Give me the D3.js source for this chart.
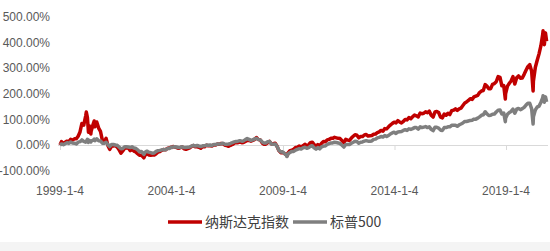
<!DOCTYPE html>
<html>
<head>
<meta charset="utf-8">
<script src="https://cdn.jsdelivr.net/npm/d3@7"></script>
<style>
  body { margin: 0; background: #fff; }
  text { font-family: "Liberation Sans", Arial, sans-serif; }
</style>
</head>
<body>
<div id="chart"></div>
<script>
// dates of the points (month ends plus a few turning points)
var dates = [
  "1999-01-04","1999-01-28","1999-02-28","1999-03-28","1999-04-28","1999-05-28","1999-06-28","1999-07-28","1999-08-28","1999-09-28","1999-10-28","1999-11-28","1999-12-28",
  "2000-01-28","2000-02-28","2000-03-10","2000-03-28","2000-04-14","2000-04-28","2000-05-23","2000-05-28","2000-06-28","2000-07-17","2000-07-28","2000-08-28","2000-09-28","2000-10-28","2000-11-28","2000-12-28",
  "2001-01-28","2001-02-28","2001-03-28","2001-04-28","2001-05-28","2001-06-28","2001-07-28","2001-08-28","2001-09-28","2001-10-28","2001-11-28","2001-12-28",
  "2002-01-28","2002-02-28","2002-03-28","2002-04-28","2002-05-28","2002-06-28","2002-07-28","2002-08-28","2002-09-28","2002-10-09","2002-10-28","2002-11-28","2002-12-28",
  "2003-01-28","2003-02-28","2003-03-28","2003-04-28","2003-05-28","2003-06-28","2003-07-28","2003-08-28","2003-09-28","2003-10-28","2003-11-28","2003-12-28",
  "2004-01-28","2004-02-28","2004-03-28","2004-04-28","2004-05-28","2004-06-28","2004-07-28","2004-08-28","2004-09-28","2004-10-28","2004-11-28","2004-12-28",
  "2005-01-28","2005-02-28","2005-03-28","2005-04-28","2005-05-28","2005-06-28","2005-07-28","2005-08-28","2005-09-28","2005-10-28","2005-11-28","2005-12-28",
  "2006-01-28","2006-02-28","2006-03-28","2006-04-28","2006-05-28","2006-06-28","2006-07-28","2006-08-28","2006-09-28","2006-10-28","2006-11-28","2006-12-28",
  "2007-01-28","2007-02-28","2007-03-28","2007-04-28","2007-05-28","2007-06-28","2007-07-28","2007-08-28","2007-09-28","2007-10-28","2007-11-28","2007-12-28",
  "2008-01-28","2008-02-28","2008-03-28","2008-04-28","2008-05-28","2008-06-28","2008-07-28","2008-08-28","2008-09-28","2008-10-28","2008-11-28","2008-12-28",
  "2009-01-28","2009-02-28","2009-03-09","2009-03-28","2009-04-28","2009-05-28","2009-06-28","2009-07-28","2009-08-28","2009-09-28","2009-10-28","2009-11-28","2009-12-28",
  "2010-01-28","2010-02-28","2010-03-28","2010-04-28","2010-05-28","2010-06-28","2010-07-28","2010-08-28","2010-09-28","2010-10-28","2010-11-28","2010-12-28",
  "2011-01-28","2011-02-28","2011-03-28","2011-04-28","2011-05-28","2011-06-28","2011-07-28","2011-08-28","2011-09-28","2011-10-28","2011-11-28","2011-12-28",
  "2012-01-28","2012-02-28","2012-03-28","2012-04-28","2012-05-28","2012-06-28","2012-07-28","2012-08-28","2012-09-28","2012-10-28","2012-11-28","2012-12-28",
  "2013-01-28","2013-02-28","2013-03-28","2013-04-28","2013-05-28","2013-06-28","2013-07-28","2013-08-28","2013-09-28","2013-10-28","2013-11-28","2013-12-28",
  "2014-01-28","2014-02-28","2014-03-28","2014-04-28","2014-05-28","2014-06-28","2014-07-28","2014-08-28","2014-09-28","2014-10-28","2014-11-28","2014-12-28",
  "2015-01-28","2015-02-28","2015-03-28","2015-04-28","2015-05-28","2015-06-28","2015-07-28","2015-08-28","2015-09-28","2015-10-28","2015-11-28","2015-12-28",
  "2016-01-28","2016-02-28","2016-03-28","2016-04-28","2016-05-28","2016-06-28","2016-07-28","2016-08-28","2016-09-28","2016-10-28","2016-11-28","2016-12-28",
  "2017-01-28","2017-02-28","2017-03-28","2017-04-28","2017-05-28","2017-06-28","2017-07-28","2017-08-28","2017-09-28","2017-10-28","2017-11-28","2017-12-28",
  "2018-01-28","2018-02-28","2018-03-28","2018-04-28","2018-05-28","2018-06-28","2018-07-28","2018-08-28","2018-09-28","2018-10-28","2018-11-28","2018-12-24","2018-12-28",
  "2019-01-28","2019-02-28","2019-03-28","2019-04-28","2019-05-28","2019-06-28","2019-07-28","2019-08-28","2019-09-28","2019-10-28","2019-11-28","2019-12-28",
  "2020-01-28","2020-02-28","2020-03-23","2020-03-28","2020-04-28","2020-05-28","2020-06-28","2020-07-28","2020-08-28","2020-09-02","2020-09-23","2020-10-12","2020-10-30"
];

// cumulative return in %, 纳斯达克指数
var nasdaq = [
  0,13,4,11,15,12,22,19,24,24,34,51,84,
  78,113,129,107,50,75,43,54,80,94,71,90,66,53,18,12,
  26,-3,-17,-4,-4,-2,-8,-18,-32,-23,-13,-12,
  -12,-22,-16,-24,-27,-34,-40,-40,-47,-50,-40,-33,-39,
  -40,-39,-39,-34,-28,-26,-21,-18,-19,-13,-11,-9,
  -6,-8,-10,-13,-10,-7,-15,-17,-14,-11,-5,-2,
  -7,-7,-9,-13,-6,-7,-1,-3,-3,-4,1,0,
  4,3,6,5,-1,-2,-5,-1,2,7,10,9,
  12,9,10,14,18,18,15,18,22,29,21,20,
  8,3,3,9,14,4,5,7,-5,-22,-30,-29,
  -33,-38,-43,-31,-22,-20,-17,-10,-9,-4,-7,-3,3,
  -3,1,9,11,2,-4,2,-4,7,14,13,20,
  22,26,26,30,28,26,25,17,9,22,19,18,
  27,34,40,38,28,33,33,39,41,35,36,37,
  42,43,48,51,57,54,64,63,71,78,84,89,
  86,95,90,86,92,100,98,107,103,110,117,114,
  110,125,122,124,130,126,132,116,109,129,131,127,
  109,106,121,116,124,119,134,136,141,135,141,144,
  154,164,168,174,181,178,188,191,194,205,211,213,
  236,229,220,220,237,240,247,267,264,231,232,180,200,
  230,241,250,267,238,263,270,261,262,276,292,306,
  314,288,211,249,303,330,356,387,433,446,392,438,405
];

// cumulative return in %, 标普500
var sp500 = [
  0,4,1,5,9,6,12,8,7,4,11,13,20,
  14,11,14,22,10,18,12,16,18,23,17,24,17,16,7,7,
  11,1,-6,2,2,0,-1,-8,-15,-14,-7,-7,
  -8,-10,-7,-12,-13,-19,-26,-25,-34,-37,-28,-24,-28,
  -30,-32,-31,-25,-22,-21,-19,-18,-19,-14,-14,-9,
  -8,-7,-8,-10,-9,-7,-10,-10,-9,-8,-4,-1,
  -4,-2,-4,-6,-3,-3,0,-1,0,-2,2,2,
  4,4,5,7,3,3,4,6,9,12,14,15,
  17,15,16,21,25,22,18,20,24,26,21,20,
  12,8,8,13,14,4,3,4,-5,-21,-27,-26,
  -33,-40,-45,-35,-29,-25,-25,-20,-17,-14,-16,-11,-9,
  -13,-10,-5,-3,-11,-16,-10,-15,-7,-4,-4,2,
  5,8,8,11,10,8,5,-1,-8,2,2,2,
  7,11,15,14,7,11,12,15,17,15,15,16,
  22,23,28,30,33,31,37,33,37,43,47,50,
  45,51,52,53,57,60,57,63,61,64,68,68,
  62,71,68,70,72,68,71,61,56,69,69,66,
  58,57,68,68,71,71,77,77,77,73,79,82,
  86,92,92,94,96,97,101,101,105,110,116,118,
  130,121,115,116,120,121,129,136,137,121,125,91,104,
  120,127,131,140,124,140,143,138,142,147,156,163,
  163,141,82,110,137,148,152,166,185,192,167,188,168
];

var yTicks = [-100, 0, 100, 200, 300, 400, 500];
var xTicks = ["1999-01-04", "2004-01-04", "2009-01-04", "2014-01-04", "2019-01-04"];
var seriesNames = ["纳斯达克指数", "标普500"];
var seriesColors = ["#c00000", "#7f7f7f"];

var width = 550, height = 251;
var parse = d3.timeParse("%Y-%m-%d");
var fmt = d3.timeFormat("%Y-%-m-%-d");

var svg = d3.select("#chart").append("svg")
    .attr("width", width)
    .attr("height", height);

// faint frame band at the bottom of the picture
svg.append("rect")
    .attr("x", 0).attr("y", 242)
    .attr("width", width).attr("height", 9)
    .attr("fill", "#f4f4f4");

// x scale: time, pinned by the first and last tick label
var x = d3.scaleTime()
    .domain([parse(xTicks[0]), parse(xTicks[xTicks.length - 1])])
    .range([60, 506]);

var y = d3.scaleLinear()
    .domain([-100, 500])
    .range([170.6, 17]);

// y labels, no gridlines
svg.append("g")
    .selectAll("text")
    .data(yTicks)
    .enter()
    .append("text")
    .attr("x", 50)
    .attr("y", function(d) { return y(d); })
    .attr("dy", "0.35em")
    .style("text-anchor", "end")
    .style("font-size", "12px")
    .style("fill", "#595959")
    .text(function(d) { return d.toFixed(2) + "%"; });

// category axis sits on zero
var xAxis = svg.append("g")
    .attr("transform", "translate(0," + y(0) + ")")
    .call(d3.axisBottom(x)
        .tickValues(xTicks.map(parse))
        .tickSize(5)
        .tickSizeOuter(0)
        .tickFormat(""));
xAxis.select(".domain")
    .attr("d", "M58,0.5H548")
    .attr("stroke", "#d9d9d9");
xAxis.selectAll(".tick line").attr("stroke", "#d9d9d9");

svg.append("g")
    .selectAll("text")
    .data(xTicks)
    .enter()
    .append("text")
    .attr("x", function(d) { return x(parse(d)); })
    .attr("y", 191)
    .attr("dy", "0.35em")
    .style("text-anchor", "middle")
    .style("font-size", "12px")
    .style("fill", "#595959")
    .text(function(d) { return fmt(parse(d)); });

// lines, grey on top of red
var series = [nasdaq, sp500];
var line = d3.line()
    .x(function(d, i) { return x(parse(dates[i])); })
    .y(function(d) { return y(d); });

series.forEach(function(s, k) {
    svg.append("path")
        .datum(s)
        .attr("d", line)
        .attr("fill", "none")
        .attr("stroke", seriesColors[k])
        .attr("stroke-width", 3.5)
        .attr("stroke-linejoin", "round");
});

// legend
var legendX = [168, 293];
var legend = svg.append("g");
seriesNames.forEach(function(name, k) {
    legend.append("line")
        .attr("x1", legendX[k]).attr("x2", legendX[k] + 34)
        .attr("y1", 222).attr("y2", 222)
        .attr("stroke", seriesColors[k])
        .attr("stroke-width", 3.5);
    legend.append("text")
        .attr("x", legendX[k] + 37)
        .attr("y", 222)
        .attr("dy", "0.35em")
        .style("font-family", "'Noto Sans CJK SC', sans-serif")
        .style("font-size", "14px")
        .style("fill", "#404040")
        .text(name);
});
</script>
</body>
</html>
